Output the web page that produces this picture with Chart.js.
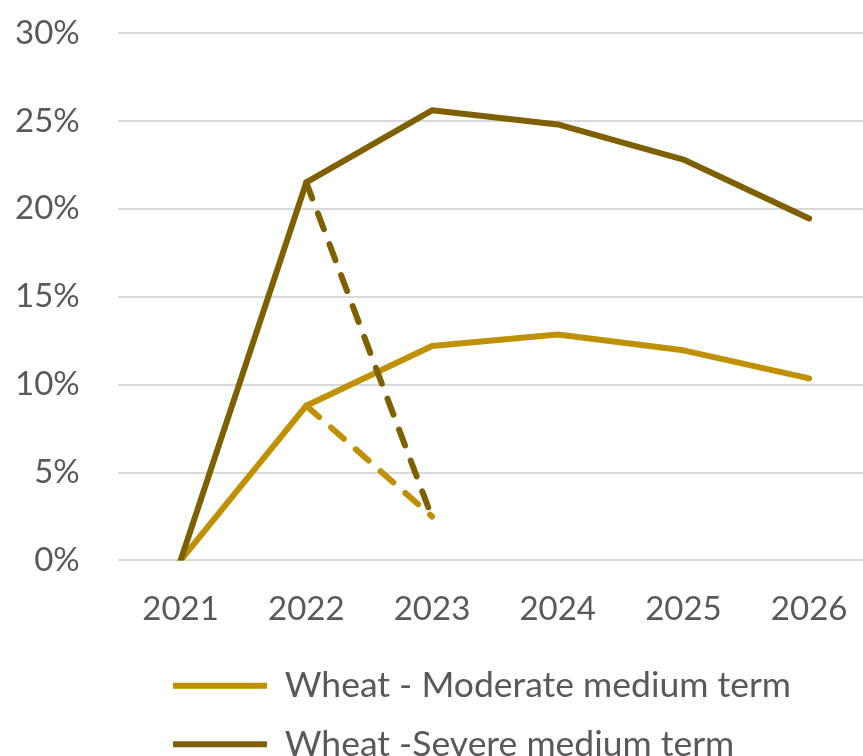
<!DOCTYPE html>
<html>
<head>
<meta charset="utf-8">
<script src="https://cdn.jsdelivr.net/npm/chart.js@4/dist/chart.umd.min.js"></script>
<style>
  html, body { margin: 0; padding: 0; background: #fff; overflow: hidden; width: 863px; height: 756px; }
  canvas { display: block; }
</style>
</head>
<body>
<canvas id="c" width="872" height="777"></canvas>
<script>
const categories = ['2021', '2022', '2023', '2024', '2025', '2026'];
const moderate = [0, 8.8, 12.2, 12.85, 11.95, 10.35];
const severe = [0, 21.5, 25.6, 24.8, 22.8, 19.45];
const moderateDrop = [null, 8.8, 2.5, null, null, null];
const severeDrop = [null, 21.5, 2.45, null, null, null];
const seriesNames = ['Wheat - Moderate medium term', 'Wheat -Severe medium term'];
const yTicks = [0, 5, 10, 15, 20, 25, 30];

const GOLD = '#BF9000';
const BROWN = '#7F6000';
const TEXT = '#595959';
const FONT = 'Lato, "Liberation Sans", sans-serif';

const legendOffset = {
  id: 'legendOffset',
  afterLayout(chart) {
    const lg = chart.legend;
    if (!lg) return;
    const dx = 150 - lg.left;
    lg.left += dx; lg.right += dx;
    lg.top -= 5; lg.bottom -= 5;
  }
};

const lineBase = {
  borderWidth: 6,
  borderCapStyle: 'round',
  borderJoinStyle: 'round',
  pointRadius: 0,
  pointHoverRadius: 0,
  tension: 0,
  fill: false,
  spanGaps: false
};

new Chart(document.getElementById('c'), {
  type: 'line',
  data: {
    labels: categories,
    datasets: [
      Object.assign({}, lineBase, { label: seriesNames[0], data: moderate, borderColor: GOLD, backgroundColor: GOLD, order: 3 }),
      Object.assign({}, lineBase, { label: seriesNames[1], data: severe, borderColor: BROWN, backgroundColor: BROWN, order: 2 }),
      Object.assign({}, lineBase, { label: 'drop1', data: moderateDrop, borderColor: GOLD, backgroundColor: GOLD, borderDash: [17, 16], order: 1 }),
      Object.assign({}, lineBase, { label: 'drop2', data: severeDrop, borderColor: BROWN, backgroundColor: BROWN, borderDash: [17, 16], order: 0 })
    ]
  },
  options: {
    responsive: false,
    animation: false,
    layout: { padding: { left: -23, right: 0, top: 33, bottom: 0 } },
    scales: {
      x: {
        offset: true,
        grid: { display: false },
        border: { display: false },
        ticks: { color: TEXT, font: { family: FONT, size: 33 }, padding: 21, maxRotation: 0 }
      },
      y: {
        min: 0,
        max: 30,
        afterBuildTicks(axis) { axis.ticks = yTicks.map(v => ({ value: v })); },
        afterFit(axis) { axis.paddingTop = 0; axis.paddingBottom = 0; },
        grid: { color: '#d9d9d9', lineWidth: 2, drawTicks: false },
        border: { display: false },
        ticks: { color: TEXT, font: { family: FONT, size: 33 }, padding: 38, callback: v => v + '%' }
      }
    },
    plugins: {
      tooltip: { enabled: false },
      legend: {
        position: 'bottom',
        align: 'start',
        labels: {
          color: TEXT,
          font: { family: FONT, size: 35.5 },
          padding: 23,
          usePointStyle: true,
          pointStyle: 'line',
          pointStyleWidth: 94,
          filter: item => item.datasetIndex < 2,
          sort: (a, b) => a.datasetIndex - b.datasetIndex
        }
      }
    }
  },
  plugins: [legendOffset]
});
</script>
</body>
</html>
